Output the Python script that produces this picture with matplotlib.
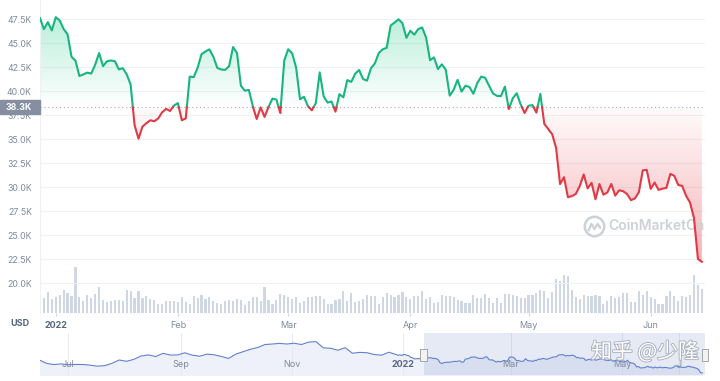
import numpy as np
import pandas as pd
import matplotlib
matplotlib.use("Agg")
import matplotlib.pyplot as plt
import matplotlib.dates as mdates
import matplotlib.transforms as mtransforms
import matplotlib.patheffects as pe
from matplotlib.path import Path
from matplotlib.patches import Rectangle
from matplotlib.colors import to_rgb

plt.rcParams['font.family'] = ['Inter', 'DejaVu Sans']

# BTC daily close in K USD, 2021-12-28 .. 2022-06-14
price_dec = [47.59, 46.44, 47.18, 46.31]
price_jan = [47.69, 47.35, 46.46, 45.90, 43.57, 43.16, 41.56, 41.73, 41.91, 41.82, 42.74, 43.95, 42.59, 43.10, 43.18,
             43.11, 42.25, 42.38, 41.74, 40.68, 36.46, 35.03, 36.28, 36.65, 36.95, 36.85, 37.14, 37.78, 38.14, 37.92, 38.48]
price_feb = [38.74, 36.95, 37.15, 41.50, 41.44, 42.41, 43.84, 44.12, 44.34, 43.57, 42.41, 42.24, 42.20, 42.59,
             44.58, 43.96, 40.54, 40.03, 40.12, 38.43, 37.08, 38.29, 37.30, 38.33, 39.21, 39.11, 37.71, 43.19]
price_mar = [44.35, 43.93, 42.45, 39.14, 39.40, 38.42, 37.99, 38.73, 41.94, 39.44, 38.79, 38.90, 37.85, 39.67, 39.34,
             41.14, 40.95, 41.80, 42.19, 41.25, 41.08, 42.36, 42.89, 43.96, 44.35, 44.50, 46.82, 47.13, 47.47, 47.06, 45.54]
price_apr = [46.28, 45.87, 46.45, 46.62, 45.56, 43.21, 43.50, 42.29, 42.78, 42.21, 39.52, 40.13, 41.17, 39.94, 40.55,
             40.42, 39.72, 40.83, 41.50, 41.37, 40.53, 39.74, 39.49, 39.47, 40.46, 38.12, 39.24, 39.77, 38.61, 37.71]
price_may = [38.47, 38.53, 37.75, 39.70, 36.58, 36.04, 35.50, 34.06, 30.30, 31.02, 28.94, 29.05, 29.28, 30.10, 31.31,
             29.86, 30.43, 28.72, 30.31, 29.20, 29.43, 30.32, 29.10, 29.66, 29.56, 29.27, 28.63, 28.81, 29.45, 31.73, 31.79]
price_jun = [29.80, 30.47, 29.70, 29.83, 29.91, 31.37, 31.16, 30.21, 30.11, 29.08, 28.36, 26.76, 22.49, 22.21]

# daily volume, relative units
volume = [52, 45, 62, 42, 48, 55, 70, 60, 52, 138, 48, 35, 53, 45, 57, 78, 39, 32, 35, 38,
          38, 35, 70, 65, 45, 67, 45, 52, 42, 39, 28, 28, 37, 35, 35, 33, 48, 33, 27, 50,
          45, 55, 43, 48, 37, 30, 27, 37, 38, 37, 43, 38, 25, 37, 47, 47, 35, 77, 40, 27,
          38, 58, 55, 47, 42, 48, 30, 35, 47, 48, 52, 52, 42, 27, 28, 40, 42, 65, 35, 60,
          33, 35, 42, 53, 50, 50, 28, 47, 60, 55, 48, 55, 62, 47, 43, 52, 52, 65, 43, 47,
          30, 32, 55, 50, 52, 47, 40, 35, 30, 30, 55, 45, 45, 58, 45, 30, 45, 30, 58, 58, 55,
          52, 45, 45, 53, 55, 60, 70, 67, 45, 62, 102, 97, 115, 110, 70, 47, 43, 53, 50, 52,
          55, 50, 28, 35, 52, 45, 47, 60, 60, 33, 33, 65, 55, 67, 48, 42, 28, 28, 52, 67,
          52, 35, 50, 48, 55, 113, 83, 73]

# navigator history (every 4 days), 2021-06-15 .. 2021-12-24, K USD
nav_2021 = [40.2, 35.5, 33.7, 34.6,
            33.6, 33.8, 33.8, 32.8, 31.5, 32.1, 35.4, 40.0,
            38.2, 40.9, 45.6, 47.1, 44.8, 49.3, 46.9, 47.0,
            50.0, 46.8, 45.2, 48.1, 47.3, 44.9, 42.2,
            48.2, 51.5, 54.9, 57.4, 61.5, 62.2, 63.1, 62.2,
            63.3, 61.5, 64.9, 65.5, 56.9, 56.3, 53.6, 57.0,
            49.4, 50.6, 50.1, 47.6, 46.7, 50.8]

base = 38.3
y_ticks = [20.0, 22.5, 25.0, 27.5, 30.0, 32.5, 35.0, 37.5, 40.0, 42.5, 45.0, 47.5]
month_ticks = ["2022-01-01", "2022-02-01", "2022-03-01", "2022-04-01", "2022-05-01", "2022-06-01"]
month_labels = ["2022", "Feb", "Mar", "Apr", "May", "Jun"]
nav_ticks = ["2021-07-01", "2021-09-01", "2021-11-01", "2022-01-01", "2022-03-01", "2022-05-01", "2022-06-01"]
nav_labels = ["Jul", "Sep", "Nov", "2022", "Mar", "May", "Jun"]

GREEN = "#18b67e"
RED = "#e03a47"
GRAY = "#808a9d"
DARK = "#58667e"

price = np.array(price_dec + price_jan + price_feb + price_mar + price_apr + price_may + price_jun)
dates = pd.date_range("2021-12-28", periods=len(price), freq="D")
xn = mdates.date2num(dates)

W, H = 720, 381
fig = plt.figure(figsize=(W / 100, H / 100), dpi=100)
fig.patch.set_facecolor("white")


def box(x0, y0, x1, y1):
    return [x0 / W, 1 - y1 / H, (x1 - x0) / W, (y1 - y0) / H]


ax = fig.add_axes(box(40, 0, 705, 313))
axv = ax.twinx()
ax.set_zorder(2)
axv.set_zorder(1)
ax.patch.set_visible(False)

# volume bars
axv.bar(dates, volume, width=0.55, color="#cfd6e4", linewidth=0)
axv.set_ylim(0, 939)
axv.axis("off")

# split line at the baseline
xs, ys = [xn[0]], [price[0]]
for i in range(1, len(price)):
    y0, y1 = price[i - 1], price[i]
    if (y0 - base) * (y1 - base) < 0:
        t = (base - y0) / (y1 - y0)
        xs.append(xn[i - 1] + t * (xn[i] - xn[i - 1]))
        ys.append(base)
    xs.append(xn[i])
    ys.append(price[i])
xs, ys = np.array(xs), np.array(ys)


def grad_fill(mask, color, y_lo, y_hi, a_lo, a_hi):
    poly = ax.fill_between(xs, ys, base, where=mask, facecolor="none", edgecolor="none")
    path = Path.make_compound_path(*poly.get_paths())
    rgba = np.zeros((256, 1, 4))
    rgba[..., :3] = to_rgb(color)
    rgba[:, 0, 3] = np.linspace(a_lo, a_hi, 256)
    im = ax.imshow(rgba, extent=[xs[0], xs[-1], y_lo, y_hi], origin="lower", aspect="auto",
                   interpolation="bilinear", zorder=1)
    im.set_clip_path(path, transform=ax.transData)


grad_fill(ys >= base, "#16c784", base, 47.8, 0.0, 0.3)
grad_fill(ys <= base, "#ea3943", 21.8, base, 0.4, 0.02)

ax.plot(xs, np.where(ys >= base, ys, np.nan), color=GREEN, lw=1.5, zorder=3, solid_joinstyle="round")
ax.plot(xs, np.where(ys <= base, ys, np.nan), color=RED, lw=1.5, zorder=3, solid_joinstyle="round")
ax.axhline(base, color="#a6adbf", lw=0.8, ls=(0, (1, 2.5)), zorder=2)

# CoinMarketCap watermark
ax.plot([0.833], [0.278], transform=ax.transAxes, marker="o", ms=14, mfc="none", mec="#cdd1d8", mew=1.8, zorder=1.5)
wave = Path([(-0.6, -0.35), (-0.3, 0.35), (0.0, -0.15), (0.3, 0.35), (0.6, -0.1)])
ax.plot([0.833], [0.275], transform=ax.transAxes, marker=wave, ms=9, mfc="none", mec="#cdd1d8", mew=1.6, zorder=1.5)
ax.text(0.854, 0.278, "CoinMarketCap", transform=ax.transAxes, va="center", ha="left", size=10,
        weight="semibold", color="#cdd1d8", zorder=1.5, clip_on=True)

ax.set_xlim(pd.Timestamp("2021-12-28 00:00"), pd.Timestamp("2022-06-14 19:00"))
ax.set_ylim(16.875, 49.48)
ax.set_yticks(y_ticks)
ax.set_yticklabels([f"{v:.1f}K" for v in y_ticks])
ax.yaxis.grid(True, color="#eff2f5", lw=0.8)
ax.set_axisbelow(True)
ax.set_xticks(pd.to_datetime(month_ticks))
ax.set_xticklabels(month_labels)
ax.tick_params(axis="y", length=0, pad=5.8, labelsize=6.3, labelcolor=GRAY)
ax.tick_params(axis="x", length=2.5, color="#cfd6e4", pad=3, labelsize=6.5, labelcolor=GRAY)
lbl = ax.get_xticklabels()[0]
lbl.set_fontweight("bold")
lbl.set_color(DARK)
for s in ["top", "right", "bottom"]:
    ax.spines[s].set_visible(False)
ax.spines["left"].set_color("#eff2f5")

# current price tag
tr = mtransforms.blended_transform_factory(fig.transFigure, ax.transData)
fig.add_artist(Rectangle((0, base - 0.73), 40 / W, 1.46, transform=tr, color="#868ea2", zorder=5))
fig.text(32 / W, base, "38.3K", transform=tr, ha="right", va="center", color="white",
         weight="bold", size=6.3, zorder=6)
fig.text(20 / W, 1 - 323 / H, "USD", ha="center", va="center", weight="bold", color=DARK, size=6.5)

# navigator
nav = fig.add_axes(box(40, 333, 705, 375))
nav_dates = list(pd.date_range("2021-06-15", periods=len(nav_2021), freq="4D")) + list(dates)
nav_vals = nav_2021 + list(price)
nav.fill_between(nav_dates, nav_vals, 0, color="#eef1fa", lw=0)
for d in nav_ticks:
    nav.axvline(pd.Timestamp(d), color="#e3e7ee", lw=0.6, zorder=1)
nav.plot(nav_dates, nav_vals, color="#6380cf", lw=0.8, zorder=3)
sel0, sel1 = pd.Timestamp("2022-01-12"), pd.Timestamp("2022-06-15 12:00")
nav.axvspan(sel0, sel1, color="#6685c2", alpha=0.17, lw=0, zorder=2)
nav.set_xlim(pd.Timestamp("2021-06-15 12:00"), sel1)
nav.set_ylim(19.2, 77.5)
nav.axis("off")
ntr = mtransforms.blended_transform_factory(nav.transData, nav.transAxes)
for d, t in zip(nav_ticks, nav_labels):
    nav.text(pd.Timestamp(d), 0.24, t if t != "Jun" else "J", transform=ntr, ha="center", va="center",
             size=6.5, color=DARK if t == "2022" else GRAY, weight="bold" if t == "2022" else "normal", zorder=4)
for d in [sel0, sel1]:
    x0 = mdates.date2num(d) - 1.8
    nav.add_patch(Rectangle((x0, 0.33), 3.6, 0.29, transform=ntr, facecolor="#f2f2f2",
                            edgecolor="#999999", lw=0.6, zorder=5, clip_on=False))

# zhihu watermark
fig.text(645 / W, 1 - 352 / H, "知乎 @少隆", family=["Noto Sans CJK SC", "DejaVu Sans"], size=15,
         color="white", ha="center", va="center", zorder=10,
         path_effects=[pe.withStroke(linewidth=1.3, foreground="#a9b0be")])

fig.savefig("out.png", dpi=100)
